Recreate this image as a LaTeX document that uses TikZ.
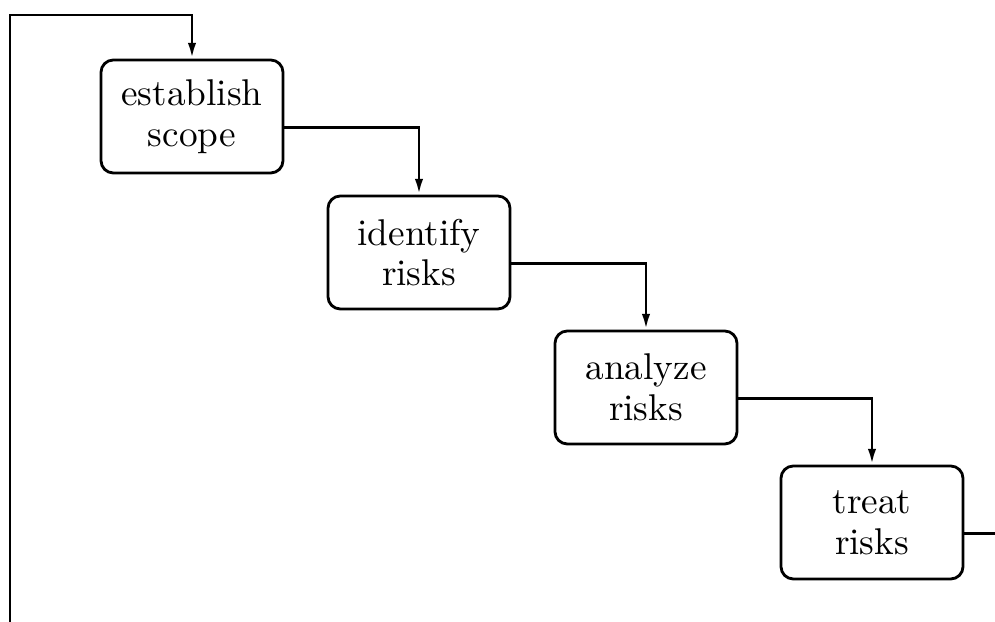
\documentclass[tikz,border=0pt]{standalone}
\usetikzlibrary{arrows.meta}
\begin{document}
\begin{tikzpicture}[
	stage/.style={draw, line width=0.8pt, rounded corners=3.5pt, minimum width=1.82cm, minimum height=1.13cm, align=center, font=\fontsize{10.6}{11.6}\selectfont},
	flow/.style={line width=0.8pt, -{Latex[length=4.5pt,width=2.4pt]}}
	]
	\useasboundingbox (0,0) rectangle (9.95,-6.22);
	
	%process stages
	\node[stage] (scope) at (1.92,-1.165){establish\\scope};
	\node[stage] (ident) at (4.19,-2.525){identify\\risks};
	\node[stage] (anal) at (6.46,-3.875){analyze\\risks};
	\node[stage] (treat) at (8.72,-5.225){treat\\risks};
	
	%loop back
	\coordinate (back) at (0.10,-6.22);
	\coordinate (top) at (0.10,-0.15);
	\coordinate (tr) at ([yshift=-0.11cm]treat.east);
	\coordinate (out) at (9.95,0);
	
	\draw[flow] (back) -- (top) -| (scope.north);
	\draw[flow] ([yshift=-0.11cm]scope.east) -| (ident.north);
	\draw[flow] ([yshift=-0.11cm]ident.east) -| (anal.north);
	\draw[flow] ([yshift=-0.11cm]anal.east) -| (treat.north);
	\draw[line width=0.8pt] (tr) -- (tr -| out);
\end{tikzpicture}
\end{document}
